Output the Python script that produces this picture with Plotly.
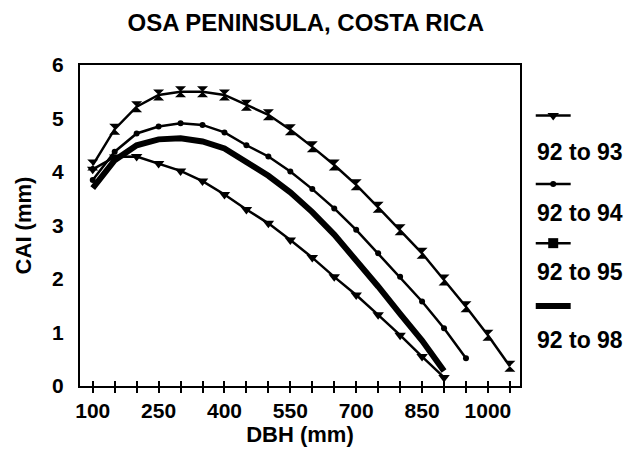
import plotly.graph_objects as go

# DBH classes (mm) and current annual increment (mm) per census interval
dbh = [100, 150, 200, 250, 300, 350, 400, 450, 500, 550, 600, 650,
       700, 750, 800, 850, 900, 950, 1000, 1050]

cai_92_93 = [4.05, 4.28, 4.29, 4.16, 4.02, 3.83, 3.58, 3.30, 3.04, 2.73,
             2.40, 2.04, 1.70, 1.33, 0.95, 0.55, 0.16]
cai_92_94 = [3.85, 4.38, 4.72, 4.85, 4.91, 4.88, 4.74, 4.50, 4.29, 4.01,
             3.68, 3.32, 2.92, 2.48, 2.04, 1.58, 1.08, 0.52]
cai_92_95 = [4.13, 4.80, 5.22, 5.44, 5.50, 5.50, 5.44, 5.25, 5.07, 4.79,
             4.47, 4.13, 3.76, 3.34, 2.92, 2.48, 1.98, 1.48, 0.95, 0.37]
cai_92_98 = [3.70, 4.22, 4.50, 4.61, 4.63, 4.57, 4.44, 4.20, 3.93, 3.62,
             3.25, 2.83, 2.36, 1.86, 1.35, 0.85, 0.28]

series_names = ["92 to 93", "92 to 94", "92 to 95", "92 to 98"]

x_ticks = list(range(100, 1051, 50))
x_labels = [str(v) if (v - 100) % 150 == 0 else "" for v in x_ticks]
y_ticks = [0, 1, 2, 3, 4, 5, 6]

FONT = "Liberation Sans, Arial, sans-serif"
BLACK = "black"
TICK_FONT = dict(family=FONT, size=21, color=BLACK, weight="bold")
TITLE_FONT = dict(family=FONT, size=22, color=BLACK, weight="bold")
LEG_FONT = dict(family=FONT, size=23, color=BLACK, weight="bold")

fig = go.Figure()

fig.add_trace(go.Scatter(
    x=dbh[:len(cai_92_93)], y=cai_92_93, mode="lines+markers",
    line=dict(color=BLACK, width=2.5),
    marker=dict(symbol="triangle-down", size=10, color=BLACK),
    name=series_names[0]))
fig.add_trace(go.Scatter(
    x=dbh[:len(cai_92_94)], y=cai_92_94, mode="lines+markers",
    line=dict(color=BLACK, width=2.5),
    marker=dict(symbol="circle", size=6, color=BLACK),
    name=series_names[1]))
fig.add_trace(go.Scatter(
    x=dbh[:len(cai_92_95)], y=cai_92_95, mode="lines+markers",
    line=dict(color=BLACK, width=2.5),
    marker=dict(symbol="hourglass", size=11, color=BLACK),
    name=series_names[2]))
fig.add_trace(go.Scatter(
    x=dbh[:len(cai_92_98)], y=cai_92_98, mode="lines",
    line=dict(color=BLACK, width=6),
    name=series_names[3]))

# Hand-built legend: sample mark above each label, on its own axes
leg_sym_y = [0.843, 0.629, 0.445, 0.249]
leg_txt_y = [0.729, 0.539, 0.355, 0.143]
leg_symbols = ["triangle-down", "circle", "square", None]
leg_sizes = [10, 6, 10, 0]
leg_widths = [2.5, 2.5, 2.5, 6]
for name, sy, ty, sym, sz, w in zip(series_names, leg_sym_y, leg_txt_y,
                                    leg_symbols, leg_sizes, leg_widths):
    fig.add_trace(go.Scatter(
        x=[0.04, 0.42], y=[sy, sy], mode="lines", xaxis="x2", yaxis="y2",
        line=dict(color=BLACK, width=w), showlegend=False, hoverinfo="skip"))
    if sym:
        fig.add_trace(go.Scatter(
            x=[0.23], y=[sy], mode="markers", xaxis="x2", yaxis="y2",
            marker=dict(symbol=sym, size=sz, color=BLACK),
            showlegend=False, hoverinfo="skip"))
    fig.add_annotation(x=0.03, y=ty, xref="x2", yref="y2", text=name,
                       showarrow=False, xanchor="left", yanchor="middle",
                       font=LEG_FONT)

fig.update_layout(
    width=624, height=450,
    margin=dict(l=80, r=0, t=65, b=64),
    paper_bgcolor="white", plot_bgcolor="white",
    showlegend=False,
    font=dict(family=FONT, size=21, color=BLACK),
    title=dict(text="OSA PENINSULA, COSTA RICA", x=0.49, xanchor="center",
               y=0.95, yanchor="middle",
               font=dict(family=FONT, size=24, color=BLACK, weight="bold")),
    xaxis=dict(
        domain=[0, 0.8088], range=[71, 1073],
        tickmode="array", tickvals=x_ticks, ticktext=x_labels,
        ticks="outside", ticklen=5, tickwidth=2, tickcolor=BLACK,
        showline=True, linewidth=2, linecolor=BLACK, mirror=True,
        showgrid=False, zeroline=False,
        tickfont=TICK_FONT,
        title=dict(text="DBH (mm)", standoff=2, font=TITLE_FONT)),
    xaxis3=dict(
        overlaying="x", matches="x", range=[71, 1073],
        tickmode="array", tickvals=x_ticks, ticktext=[""] * len(x_ticks),
        ticks="inside", ticklen=5, tickwidth=2, tickcolor=BLACK,
        showgrid=False, zeroline=False, showline=False),
    yaxis=dict(
        range=[0, 6], tickmode="array", tickvals=y_ticks,
        ticks="", showline=True, linewidth=2, linecolor=BLACK, mirror=True,
        showgrid=False, zeroline=False, ticklabelstandoff=10,
        tickfont=TICK_FONT,
        title=dict(text="CAI (mm)", standoff=14, font=TITLE_FONT)),
    xaxis2=dict(domain=[0.831, 1], range=[0, 1], visible=False, anchor="y2"),
    yaxis2=dict(domain=[0, 1], range=[0, 1], visible=False, anchor="x2"),
)

# invisible point so the crossing tick axis is drawn
fig.add_trace(go.Scatter(x=[dbh[0]], y=[cai_92_95[0]], xaxis="x3", yaxis="y",
                         mode="markers", marker=dict(opacity=0),
                         showlegend=False, hoverinfo="skip"))

fig.write_html("out.html")
